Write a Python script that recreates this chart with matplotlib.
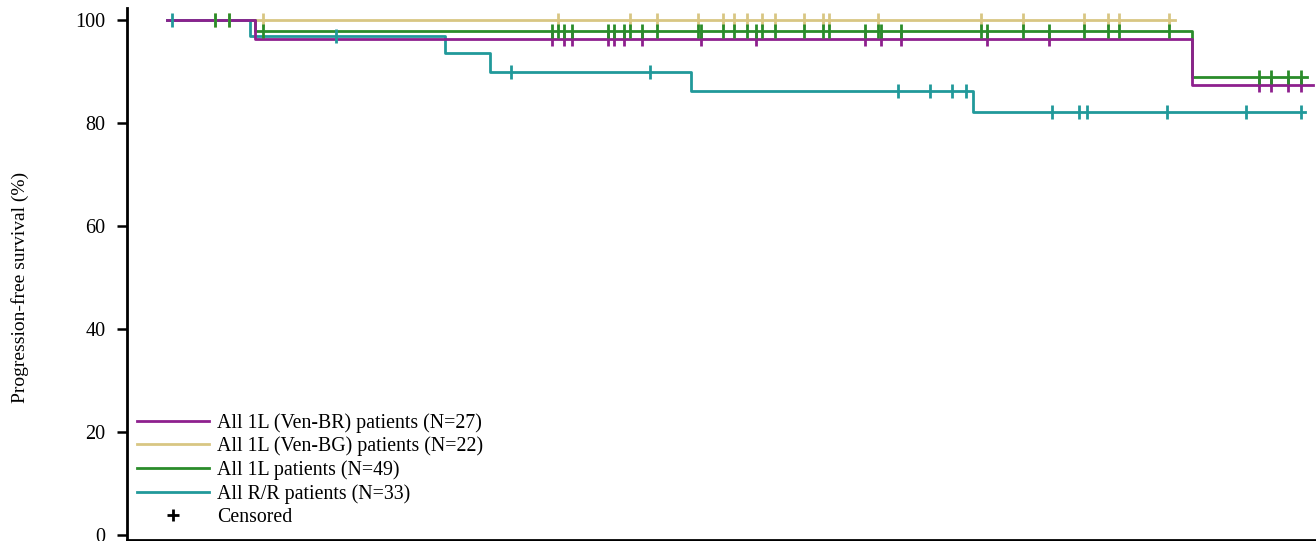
import numpy as np
import matplotlib
matplotlib.use("Agg")
import matplotlib.pyplot as plt
from matplotlib.lines import Line2D

plt.rcParams['font.family'] = ['Liberation Serif', 'DejaVu Serif']

# ---------------- data (time in months, survival in %) ----------------
labels = ["All 1L (Ven-BR) patients (N=27)",
          "All 1L (Ven-BG) patients (N=22)",
          "All 1L patients (N=49)",
          "All R/R patients (N=33)"]
colors = ["#8E208E", "#D8C683", "#2A8C2A", "#21999A"]

# Ven-BR
br_event_times = [2.93, 34.18]
br_surv = [96.30, 87.5]
br_censor = [12.82, 13.24, 13.51, 14.69, 14.90, 15.23, 15.84, 17.79, 19.63,
             23.27, 23.80, 24.47, 27.32, 29.41, 36.41, 36.79, 37.36, 37.79]
br_end = 38.21

# Ven-BG
bg_event_times = []
bg_surv = []
bg_censor = [1.60, 2.07, 3.20, 13.02, 15.43, 16.32, 17.71, 18.52, 18.89, 19.32,
             19.84, 20.27, 21.23, 21.88, 22.08, 23.71, 27.13, 28.54, 30.58,
             31.36, 31.74, 33.41]
bg_end = 33.60

# All 1L
l1_event_times = [2.93, 34.18]
l1_surv = [97.96, 89.0]
l1_censor = [1.60, 2.07, 3.20, 12.82, 13.02, 13.24, 13.51, 14.69, 14.90, 15.23,
             15.43, 15.84, 16.32, 17.71, 17.79, 18.52, 18.89, 19.32, 19.63,
             19.84, 20.27, 21.23, 21.88, 22.08, 23.27, 23.71, 23.80, 24.47,
             27.13, 27.32, 28.54, 29.41, 30.58, 31.36, 31.74, 33.41,
             36.41, 36.79, 37.36, 37.79]
l1_end = 37.99

# All R/R
rr_event_times = [2.78, 9.28, 10.78, 17.47, 26.87]
rr_surv = [96.97, 93.6, 90.0, 86.2, 82.2]
rr_censor = [0.16, 5.62, 11.47, 16.10, 24.37, 25.42, 26.16, 26.63, 29.49,
             30.40, 30.66, 33.34, 35.95, 37.79]
rr_end = 37.93

yticks = [0, 20, 40, 60, 80, 100]
ylabel = "Progression-free survival (%)"
censor_label = "Censored"

groups = [
    (br_event_times, br_surv, br_censor, br_end),
    (bg_event_times, bg_surv, bg_censor, bg_end),
    (l1_event_times, l1_surv, l1_censor, l1_end),
    (rr_event_times, rr_surv, rr_censor, rr_end),
]

# ---------------- figure ----------------
fig = plt.figure(figsize=(13.16, 5.41), dpi=100)
ax = fig.add_axes([127/1316, 1/541, 1 - 127/1316, 532/541])


def km_step(ev_t, surv, end):
    xs = np.concatenate([[0.0], np.asarray(ev_t, float), [end]])
    ys = np.concatenate([[100.0], np.asarray(surv, float)])
    ys = np.concatenate([ys, [ys[-1]]])
    return xs, ys


def surv_at(ev_t, surv, t):
    ev_t = np.asarray(ev_t, float)
    s = np.concatenate([[100.0], np.asarray(surv, float)])
    idx = np.searchsorted(ev_t, np.asarray(t, float), side='right')
    return s[idx]


LW = 2.0
draw_order = [1, 2, 3, 0]
for i in draw_order:
    ev, sv, cz, end = groups[i]
    xs, ys = km_step(ev, sv, end)
    ax.step(xs, ys, where='post', color=colors[i], lw=LW, zorder=2)
for i in [1, 0, 2, 3]:
    ev, sv, cz, end = groups[i]
    ax.plot(cz, surv_at(ev, sv, cz), linestyle='none', marker='|',
            markersize=9.5, mew=2.0, color=colors[i], zorder=3)

ax.set_xlim((127 - 167) / 30, (1316 - 167) / 30)
ax.set_ylim(-1.0, 102.4)
ax.set_yticks(yticks)
ax.set_yticklabels([str(v) for v in yticks], fontsize=14.5)
ax.tick_params(axis='y', length=7.5, width=1.8, pad=8, direction='out')
ax.set_xticks([])
for s in ['top', 'right']:
    ax.spines[s].set_visible(False)
for s in ['left', 'bottom']:
    ax.spines[s].set_linewidth(2.0)

fig.text(20/1316, 1 - 287/541, ylabel, rotation=90, ha='center', va='center',
         fontsize=14)

handles = [Line2D([], [], color=c, lw=LW) for c in colors]
handles.append(Line2D([], [], color='black', linestyle='none', marker='+',
                      markersize=8, mew=2.0))
leg = ax.legend(handles, labels + [censor_label], loc='upper left',
                frameon=False, fontsize=14.3,
                handlelength=3.6, handletextpad=0.45, labelspacing=0.2,
                borderpad=0, borderaxespad=0)
leg.set_bbox_to_anchor((10/1189, 1 - (413 - 8)/532), transform=ax.transAxes)

fig.savefig("out.png", dpi=100)
